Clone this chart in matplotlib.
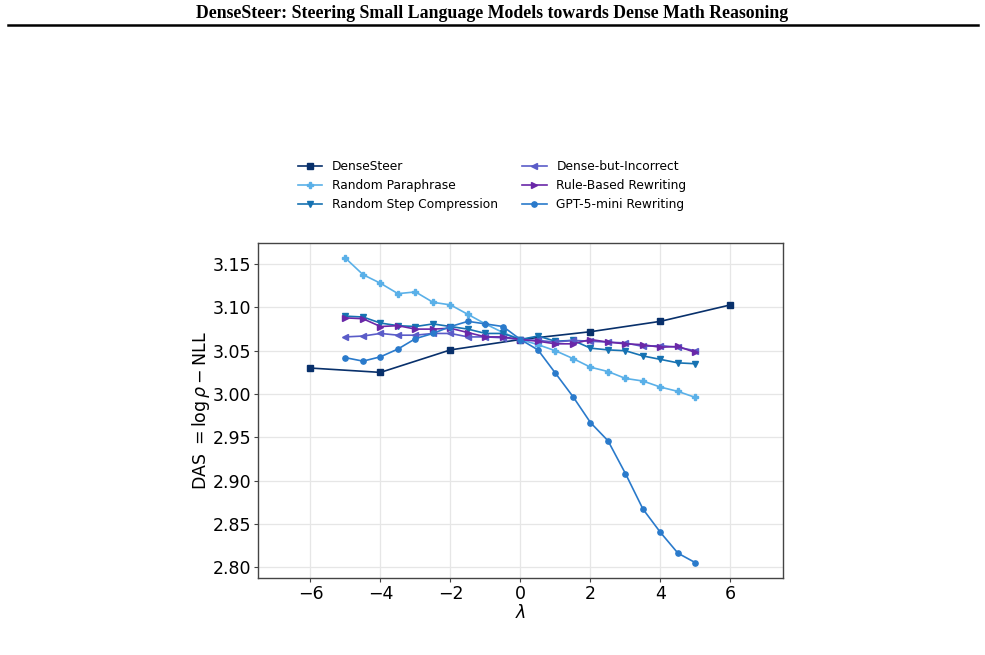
import matplotlib
matplotlib.use("Agg")
import matplotlib.pyplot as plt
import numpy as np

# ---- data ----
lam_dense = [-6, -4, -2, 0, 2, 4, 6]
das_dense = [3.030, 3.025, 3.051, 3.063, 3.072, 3.084, 3.103]

lam = [-5, -4.5, -4, -3.5, -3, -2.5, -2, -1.5, -1, -0.5, 0,
       0.5, 1, 1.5, 2, 2.5, 3, 3.5, 4, 4.5, 5]

das_paraphrase = [3.157, 3.138, 3.128, 3.116, 3.118, 3.106, 3.103, 3.092, 3.081, 3.071, 3.063,
                  3.057, 3.050, 3.041, 3.031, 3.026, 3.018, 3.015, 3.008, 3.003, 2.996]
das_step_comp = [3.090, 3.089, 3.082, 3.079, 3.078, 3.081, 3.078, 3.075, 3.070, 3.070, 3.063,
                 3.067, 3.061, 3.062, 3.053, 3.051, 3.050, 3.044, 3.040, 3.036, 3.035]
das_dense_incorrect = [3.066, 3.067, 3.070, 3.068, 3.068, 3.070, 3.070, 3.066, 3.066, 3.065, 3.063,
                       3.062, 3.060, 3.062, 3.061, 3.060, 3.059, 3.055, 3.056, 3.054, 3.050]
das_rule_based = [3.088, 3.087, 3.078, 3.079, 3.075, 3.075, 3.076, 3.071, 3.066, 3.066, 3.063,
                  3.061, 3.058, 3.058, 3.063, 3.060, 3.058, 3.057, 3.054, 3.055, 3.048]
das_gpt5mini = [3.042, 3.038, 3.043, 3.052, 3.064, 3.070, 3.078, 3.084, 3.081, 3.078, 3.063,
                3.051, 3.024, 2.997, 2.967, 2.946, 2.908, 2.867, 2.840, 2.816, 2.805]

labels = ["DenseSteer", "Random Paraphrase", "Random Step Compression",
          "Dense-but-Incorrect", "Rule-Based Rewriting", "GPT-5-mini Rewriting"]
colors = ["#08306b", "#5ab0e8", "#1672b2", "#5a5cc8", "#6a28a8", "#2a7acb"]
markers = ["s", "P", "v", "<", ">", "o"]

fig = plt.figure(figsize=(9.85, 6.55), dpi=100)

# page header
fig.text(0.4995, 0.979, "DenseSteer: Steering Small Language Models towards Dense Math Reasoning",
         ha="center", va="center", fontsize=12.75, fontweight="bold", family="Liberation Serif")
fig.add_artist(plt.Line2D([0.008, 0.993], [0.962, 0.962], color="black", lw=1.8,
                          transform=fig.transFigure))

ax = fig.add_axes([0.2619, 0.1176, 0.533, 0.5115])

series = [(lam_dense, das_dense), (lam, das_paraphrase), (lam, das_step_comp),
          (lam, das_dense_incorrect), (lam, das_rule_based), (lam, das_gpt5mini)]
handles = []
for (xs, ys), lab, c, m in zip(series, labels, colors, markers):
    h, = ax.plot(xs, ys, color=c, marker=m, markersize=3.8, lw=1.2, label=lab)
    handles.append(h)

ax.set_xlim(-7.5, 7.5)
ax.set_xticks([-6, -4, -2, 0, 2, 4, 6])
ax.set_xticklabels(["\u22126", "\u22124", "\u22122", "0", "2", "4", "6"])
ax.set_yticks([2.80, 2.85, 2.90, 2.95, 3.00, 3.05, 3.10, 3.15])
ax.tick_params(labelsize=12.5, length=3, pad=1.8, color="#444444")
ax.grid(True, color="#e6e6e6", lw=0.9)
ax.set_axisbelow(True)
for s in ax.spines.values():
    s.set_color("#444444")
    s.set_linewidth(1.0)

ax.set_xlabel(r"$\lambda$", fontsize=12.5, labelpad=1)
ax.set_ylabel(r"DAS $= \log\rho - \mathrm{NLL}$", fontsize=12.5, labelpad=0.5)

fig.legend(handles=handles, loc="upper center", bbox_to_anchor=(0.4995, 0.7726),
           ncol=2, frameon=False, fontsize=8.8)

fig.savefig("out.png", dpi=100)
